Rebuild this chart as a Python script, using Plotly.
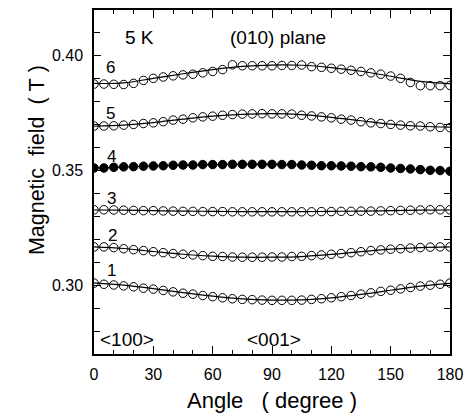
import plotly.graph_objects as go

# Resonance field vs rotation angle in the (010) plane at 5 K
angles = list(range(0, 181, 5))

line6 = [0.3877, 0.3877, 0.3876, 0.3875, 0.3880, 0.3893, 0.3902, 0.3908, 0.3913, 0.3917,
         0.3920, 0.3926, 0.3932, 0.3940, 0.3961, 0.3957, 0.3957, 0.3957, 0.3957, 0.3958,
         0.3958, 0.3960, 0.3953, 0.3950, 0.3946, 0.3942, 0.3937, 0.3932, 0.3926, 0.3920,
         0.3912, 0.3902, 0.3884, 0.3870, 0.3870, 0.3870, 0.3871]
line5 = [0.3694, 0.3694, 0.3695, 0.3698, 0.3701, 0.3705, 0.3708, 0.3713, 0.3720, 0.3724,
         0.3730, 0.3734, 0.3737, 0.3741, 0.3744, 0.3746, 0.3747, 0.3748, 0.3747, 0.3747,
         0.3746, 0.3741, 0.3738, 0.3734, 0.3730, 0.3724, 0.3720, 0.3713, 0.3708, 0.3705,
         0.3701, 0.3698, 0.3695, 0.3694, 0.3691, 0.3688, 0.3687]
line4 = [0.3511, 0.3511, 0.3514, 0.3516, 0.3517, 0.3519, 0.3520, 0.3521, 0.3523, 0.3524,
         0.3524, 0.3526, 0.3526, 0.3526, 0.3527, 0.3527, 0.3527, 0.3527, 0.3527, 0.3526,
         0.3526, 0.3524, 0.3523, 0.3521, 0.3521, 0.3520, 0.3519, 0.3517, 0.3516, 0.3514,
         0.3511, 0.3509, 0.3507, 0.3504, 0.3501, 0.3500, 0.3497]
line3 = [0.3329, 0.3329, 0.3328, 0.3327, 0.3326, 0.3325, 0.3325, 0.3324, 0.3323, 0.3322,
         0.3322, 0.3321, 0.3321, 0.3321, 0.3320, 0.3320, 0.3320, 0.3320, 0.3320, 0.3320,
         0.3320, 0.3320, 0.3320, 0.3321, 0.3321, 0.3322, 0.3322, 0.3323, 0.3323, 0.3324,
         0.3325, 0.3326, 0.3327, 0.3328, 0.3329, 0.3329, 0.3329]
line2 = [0.3167, 0.3167, 0.3164, 0.3159, 0.3155, 0.3151, 0.3146, 0.3142, 0.3138, 0.3135,
         0.3132, 0.3129, 0.3126, 0.3125, 0.3123, 0.3122, 0.3122, 0.3122, 0.3123, 0.3123,
         0.3125, 0.3126, 0.3129, 0.3132, 0.3135, 0.3138, 0.3142, 0.3146, 0.3151, 0.3154,
         0.3157, 0.3159, 0.3162, 0.3164, 0.3166, 0.3167, 0.3167]
line1 = [0.3009, 0.3004, 0.3001, 0.2997, 0.2993, 0.2987, 0.2983, 0.2977, 0.2971, 0.2965,
         0.2961, 0.2955, 0.2950, 0.2945, 0.2941, 0.2938, 0.2937, 0.2935, 0.2934, 0.2934,
         0.2934, 0.2935, 0.2938, 0.2941, 0.2945, 0.2950, 0.2955, 0.2961, 0.2967, 0.2973,
         0.2978, 0.2984, 0.2990, 0.2996, 0.3000, 0.3004, 0.3009]

fit_angles = list(range(0, 181, 15))
fit6 = [0.3880, 0.3882, 0.3902, 0.3922, 0.3940, 0.3954, 0.3960, 0.3959, 0.3949, 0.3933,
        0.3911, 0.3889, 0.3879]
fit5 = [0.3693, 0.3698, 0.3709, 0.3724, 0.3737, 0.3745, 0.3748, 0.3744, 0.3732, 0.3717,
        0.3702, 0.3693, 0.3689]
fit4 = [0.3511, 0.3515, 0.3520, 0.3524, 0.3526, 0.3527, 0.3527, 0.3524, 0.3521, 0.3517,
        0.3511, 0.3504, 0.3498]
fit3 = [0.3328, 0.3327, 0.3325, 0.3323, 0.3322, 0.3321, 0.3321, 0.3321, 0.3322, 0.3323,
        0.3325, 0.3327, 0.3328]
fit2 = [0.3167, 0.3160, 0.3147, 0.3135, 0.3127, 0.3122, 0.3122, 0.3125, 0.3134, 0.3146,
        0.3157, 0.3164, 0.3167]
fit1 = [0.3010, 0.3000, 0.2985, 0.2968, 0.2952, 0.2940, 0.2935, 0.2936, 0.2945, 0.2960,
        0.2978, 0.2996, 0.3008]

series = [
    ("1", line1, fit1, False),
    ("2", line2, fit2, False),
    ("3", line3, fit3, False),
    ("4", line4, fit4, True),
    ("5", line5, fit5, False),
    ("6", line6, fit6, False),
]

# label positions for the line numbers (angle, field)
label_pos = {
    "1": (9, 0.3066), "2": (9.5, 0.3217), "3": (9, 0.3380),
    "4": (9, 0.3562), "5": (8.5, 0.3747), "6": (8.5, 0.3950),
}

FONT = "Liberation Sans, Arial, Helvetica, sans-serif"

fig = go.Figure()
for name, vals, fit, filled in series:
    fig.add_trace(go.Scatter(
        x=fit_angles, y=fit, mode="lines", line=dict(color="black", width=1.2, shape="spline"),
        showlegend=False, hoverinfo="skip"))
    fig.add_trace(go.Scatter(
        x=angles, y=vals, mode="markers", name=name, showlegend=False,
        marker=dict(symbol="circle" if filled else "circle-open", size=8.5,
                    color="black", line=dict(color="black", width=1))))

annotations = []
for name, (ax, ay) in label_pos.items():
    annotations.append(dict(x=ax, y=ay, text=name, showarrow=False,
                            font=dict(size=17, color="black", family=FONT)))

annotations += [
    dict(x=23, y=0.4079, text="5 K", showarrow=False, font=dict(size=19, color="black", family=FONT)),
    dict(x=93, y=0.4080, text="(010) plane", showarrow=False, font=dict(size=19, color="black", family=FONT)),
    dict(x=16.6, y=0.2764, text="&lt;100&gt;", showarrow=False, font=dict(size=19, color="black", family=FONT)),
    dict(x=91, y=0.2764, text="&lt;001&gt;", showarrow=False, font=dict(size=19, color="black", family=FONT)),
    dict(xref="paper", yref="paper", x=0, y=0.5636, xshift=-57, xanchor="center", yanchor="middle",
         textangle=-90,
         text="Magnetic\u00a0 field\u00a0 (\u00a0T\u00a0)", showarrow=False,
         font=dict(size=21.5, color="black", family=FONT)),
    dict(xref="paper", yref="paper", x=0.5, y=0, yshift=-46, xanchor="center", yanchor="middle",
         text="Angle\u00a0\u00a0\u00a0(\u00a0degree\u00a0)", showarrow=False,
         font=dict(size=22, color="black", family=FONT)),
]

fig.update_layout(
    width=471, height=417,
    margin=dict(l=94, r=19, t=8, b=63),
    paper_bgcolor="white", plot_bgcolor="white",
    font=dict(family=FONT, color="black"),
    annotations=annotations,
    xaxis=dict(range=[0, 180], tickmode="linear", tick0=0, dtick=30,
               ticks="inside", ticklen=8, tickwidth=1.2, tickcolor="black",
               minor=dict(dtick=10, ticks="inside", ticklen=4, tickwidth=1.2, tickcolor="black"),
               showline=True, linecolor="black", linewidth=1.5, mirror="allticks",
               showgrid=False, zeroline=False, ticklabelstandoff=5,
               tickfont=dict(size=16, color="black", family=FONT)),
    yaxis=dict(range=[0.27, 0.42], tickmode="linear", tick0=0.30, dtick=0.05,
               tickformat=".2f",
               ticks="inside", ticklen=7, tickwidth=1.2, tickcolor="black",
               minor=dict(dtick=0.01, ticks="inside", ticklen=6, tickwidth=1.2, tickcolor="black"),
               showline=True, linecolor="black", linewidth=1.5, mirror="allticks",
               showgrid=False, zeroline=False, ticklabelstandoff=6,
               tickfont=dict(size=16, color="black", family=FONT)),
)

fig.write_html("out.html")
